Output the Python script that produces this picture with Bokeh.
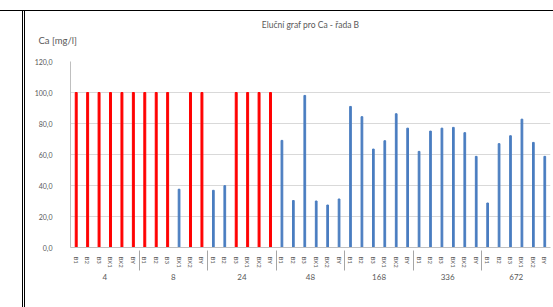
from bokeh.plotting import figure
from bokeh.models import FactorRange, Range1d, Title, InlineStyleSheet
from bokeh.embed import file_html
from bokeh.resources import INLINE

# ---- data ----
groups = ["4", "8", "24", "48", "168", "336", "672"]
samples = ["B1", "B2", "B3", "BX1", "BX2", "BY"]
# measured Ca [mg/l]; None = over range (shown in red at the range limit)
ca_4 = [None, None, None, None, None, None]
ca_8 = [None, None, None, 37.6, None, None]
ca_24 = [36.9, 39.9, None, None, None, None]
ca_48 = [69.1, 30.3, 98.1, 30.0, 27.4, 31.3]
ca_168 = [91.0, 84.4, 63.5, 68.9, 86.3, 77.0]
ca_336 = [62.0, 75.1, 77.0, 77.5, 74.1, 58.8]
ca_672 = [28.7, 67.0, 72.1, 82.8, 67.8, 58.8]
range_limit = 100.0
y_ticks = [0, 20, 40, 60, 80, 100, 120]
y_tick_labels = ["0,0", "20,0", "40,0", "60,0", "80,0", "100,0", "120,0"]
title_text = "Eluční graf pro Ca - řada B"
y_title = "Ca [mg/l]"

all_vals = [ca_4, ca_8, ca_24, ca_48, ca_168, ca_336, ca_672]
x_meas, y_meas, x_over, y_over = [], [], [], []
for g, vals in zip(groups, all_vals):
    for s, v in zip(samples, vals):
        if v is None:
            x_over.append((g, s)); y_over.append(range_limit)
        else:
            x_meas.append((g, s)); y_meas.append(v)

FONT = "Lato"
TXT = "#595959"

factors = [(g, s) for g in groups for s in samples]
p = figure(x_range=FactorRange(factors=factors, group_padding=0, factor_padding=0,
                               range_padding=0),
           y_range=Range1d(0, 120),
           width=553, height=307, output_backend="svg", toolbar_location=None,
           min_border_left=70, min_border_right=3, min_border_top=61, min_border_bottom=60)
p.title.visible = False
p.outline_line_color = None
p.background_fill_color = "white"
p.border_fill_color = "white"

p.vbar(x=x_over, top=y_over, width=0.17, color="#ff0000")
p.vbar(x=x_meas, top=y_meas, width=0.15, color="#4a7dc0")

p.xgrid.visible = False
p.ygrid.grid_line_color = "#d9d9d9"
p.ygrid.ticker = y_ticks

ya = p.yaxis[0]
ya.ticker = y_ticks
ya.major_label_overrides = {t: l for t, l in zip(y_ticks, y_tick_labels)}
ya.major_tick_line_color = None
ya.minor_tick_line_color = None
ya.axis_line_color = "#bfbfbf"
ya.major_label_text_font = FONT
ya.major_label_text_font_size = "7px"
ya.major_label_text_color = TXT
ya.major_label_standoff = 12

xa = p.xaxis[0]
xa.axis_line_color = "#bfbfbf"
xa.major_tick_line_color = None
xa.minor_tick_line_color = None
xa.major_label_orientation = "vertical"
xa.major_label_text_font = FONT
xa.major_label_text_font_size = "6px"
xa.major_label_text_color = TXT
xa.major_label_standoff = 3
xa.group_text_font = FONT
xa.group_text_font_size = "8px"
xa.group_text_color = TXT
xa.group_text_font_style = "normal"
xa.separator_line_color = "#a6a6a6"
xa.separator_line_width = 1

# titles stacked from the frame outward: spacer, y-axis title, chart title
p.add_layout(Title(text=" ", text_font_size="1px", standoff=13), "above")
p.add_layout(Title(text=y_title, text_font=FONT, text_font_size="9.5px",
                   text_color=TXT, text_font_style="normal", align="left",
                   offset=-32, standoff=0), "above")
p.add_layout(Title(text=title_text, text_font=FONT, text_font_size="8.5px",
                   text_color=TXT, text_font_style="normal", align="center",
                   offset=-11, standoff=6), "above")

# spreadsheet cell borders around the chart (overlay, does not affect layout)
p.stylesheets = [InlineStyleSheet(css="""
:host { position: relative; }
:host::before { content: ""; position: absolute; left: 0; right: 0; top: 10px; height: 0;
  border-top: 1px solid black; pointer-events: none; z-index: 10; }
:host::after { content: ""; position: absolute; left: 22px; top: 10px; bottom: 0; width: 0;
  border-left: 3px double black; pointer-events: none; z-index: 10; }
""")]

open("out.html", "w").write(file_html(p, INLINE))
